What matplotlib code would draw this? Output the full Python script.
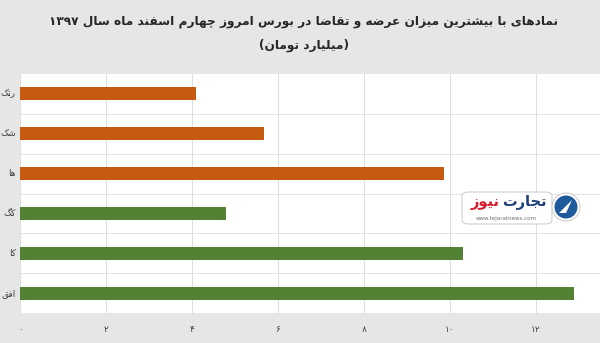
import matplotlib
matplotlib.use("Agg")
import matplotlib.pyplot as plt
from matplotlib.patches import FancyBboxPatch, Ellipse, Polygon

# ---------------- data ----------------
categories = ['رتک', 'شک', 'ها', 'کگ', 'کا', 'افق']
values = [4.09, 5.67, 9.85, 4.79, 10.30, 12.88]
bar_colors = ['#c55a11', '#c55a11', '#c55a11', '#548235', '#548235', '#548235']
xticks = [0, 2, 4, 6, 8, 10, 12]
xtick_labels = ['۰', '۲', '۴', '۶', '۸', '۱۰', '۱۲']
title_line1 = 'نمادهای با بیشترین میزان عرضه و تقاضا در بورس امروز چهارم اسفند ماه سال ۱۳۹۷'
title_line2 = '(میلیارد تومان)'
logo_word1 = 'تجارت'
logo_word2 = 'نیوز'
logo_url = 'www.tejaratnews.com'

# ---------------- minimal Arabic/Persian shaping ----------------
FORMS = {
    'ا': ('\uFE8D', '\uFE8E'), 'د': ('\uFEA9', '\uFEAA'), 'ذ': ('\uFEAB', '\uFEAC'),
    'ر': ('\uFEAD', '\uFEAE'), 'ز': ('\uFEAF', '\uFEB0'), 'ژ': ('\uFB8A', '\uFB8B'),
    'و': ('\uFEED', '\uFEEE'), 'آ': ('\uFE81', '\uFE82'),
    'ب': ('\uFE8F', '\uFE90', '\uFE91', '\uFE92'), 'پ': ('\uFB56', '\uFB57', '\uFB58', '\uFB59'),
    'ت': ('\uFE95', '\uFE96', '\uFE97', '\uFE98'), 'ث': ('\uFE99', '\uFE9A', '\uFE9B', '\uFE9C'),
    'ج': ('\uFE9D', '\uFE9E', '\uFE9F', '\uFEA0'), 'چ': ('\uFB7A', '\uFB7B', '\uFB7C', '\uFB7D'),
    'ح': ('\uFEA1', '\uFEA2', '\uFEA3', '\uFEA4'), 'خ': ('\uFEA5', '\uFEA6', '\uFEA7', '\uFEA8'),
    'س': ('\uFEB1', '\uFEB2', '\uFEB3', '\uFEB4'), 'ش': ('\uFEB5', '\uFEB6', '\uFEB7', '\uFEB8'),
    'ص': ('\uFEB9', '\uFEBA', '\uFEBB', '\uFEBC'), 'ض': ('\uFEBD', '\uFEBE', '\uFEBF', '\uFEC0'),
    'ط': ('\uFEC1', '\uFEC2', '\uFEC3', '\uFEC4'), 'ظ': ('\uFEC5', '\uFEC6', '\uFEC7', '\uFEC8'),
    'ع': ('\uFEC9', '\uFECA', '\uFECB', '\uFECC'), 'غ': ('\uFECD', '\uFECE', '\uFECF', '\uFED0'),
    'ف': ('\uFED1', '\uFED2', '\uFED3', '\uFED4'), 'ق': ('\uFED5', '\uFED6', '\uFED7', '\uFED8'),
    'ک': ('\uFB8E', '\uFB8F', '\uFB90', '\uFB91'), 'گ': ('\uFB92', '\uFB93', '\uFB94', '\uFB95'),
    'ل': ('\uFEDD', '\uFEDE', '\uFEDF', '\uFEE0'), 'م': ('\uFEE1', '\uFEE2', '\uFEE3', '\uFEE4'),
    'ن': ('\uFEE5', '\uFEE6', '\uFEE7', '\uFEE8'), 'ه': ('\uFEE9', '\uFEEA', '\uFEEB', '\uFEEC'),
    'ی': ('\uFBFC', '\uFBFD', '\uFBFE', '\uFBFF'),
}
DIGITS = set('0123456789۰۱۲۳۴۵۶۷۸۹')
MIRROR = {'(': ')', ')': '('}


def shape(text):
    out = []
    n = len(text)
    for i, ch in enumerate(text):
        if ch not in FORMS:
            out.append(ch)
            continue
        f = FORMS[ch]
        prev = text[i - 1] if i > 0 else ''
        nxt = text[i + 1] if i + 1 < n else ''
        jp = prev in FORMS and len(FORMS[prev]) == 4
        jn = len(f) == 4 and nxt in FORMS
        if jp and jn:
            out.append(f[3])
        elif jp:
            out.append(f[1])
        elif jn:
            out.append(f[2])
        else:
            out.append(f[0])
    return ''.join(out)


def rtl(text):
    s = shape(text)
    segs = []
    cur = ''
    cur_d = None
    for ch in s:
        d = ch in DIGITS
        if cur and d != cur_d:
            segs.append((cur, cur_d))
            cur = ''
        cur += ch
        cur_d = d
    if cur:
        segs.append((cur, cur_d))
    res = ''
    for seg, d in reversed(segs):
        if d:
            res += seg
        else:
            res += ''.join(MIRROR.get(c, c) for c in reversed(seg))
    return res


# ---------------- figure ----------------
W, H = 600, 343
fig = plt.figure(figsize=(6.0, 3.43), dpi=100)
fig.patch.set_facecolor('#e6e6e6')

ax = fig.add_axes([20 / W, 1 - 313 / H, 1 - 20 / W, (313 - 74) / H])
ax.set_facecolor('white')

ypos = list(range(len(categories)))
ax.barh(ypos, values, height=0.33, color=bar_colors, zorder=3)
ax.set_ylim(len(categories) - 0.5, -0.5)
ax.set_xlim(0, 580 / 43.0)

ax.set_xticks(xticks)
ax.set_xticklabels(xtick_labels, family=['DejaVu Sans'], fontsize=6.5, color='#404040')
ax.set_yticks([y + 0.5 for y in ypos[:-1]], minor=True)
ax.set_yticks([])
ax.tick_params(axis='x', length=0, pad=9)
ax.tick_params(axis='y', which='both', length=0)
ax.grid(axis='x', which='major', color='#dddddd', lw=0.7, zorder=0)
ax.grid(axis='y', which='minor', color='#e3e3e3', lw=0.7, zorder=0)
for sp in ax.spines.values():
    sp.set_visible(False)

# category labels (cut at the left border of the image)
for y, lab in zip(ypos, categories):
    ax.annotate(rtl(lab), xy=(0, y), xycoords=('axes fraction', 'data'),
                xytext=(-3, 0), textcoords='offset points', ha='right', va='center',
                fontsize=6.5, color='#404040', family=['DejaVu Sans'])

# title
fig.text(0.506, 1 - 22 / H, rtl(title_line1), ha='center', va='center',
         fontsize=8.7, fontweight='bold', color='#262626', family=['DejaVu Sans'])
fig.text(0.506, 1 - 45 / H, rtl(title_line2), ha='center', va='center',
         fontsize=8.7, fontweight='bold', color='#262626', family=['DejaVu Sans'])

# watermark logo
box = FancyBboxPatch((462 / W, 1 - 224 / H), 90 / W, 32 / H,
                     boxstyle='round,pad=0,rounding_size=0.012', transform=fig.transFigure,
                     facecolor='white', edgecolor='#d0d0d0', lw=0.8, zorder=10)
fig.patches.append(box)
ring = Ellipse((566 / W, 1 - 207 / H), 28 / W, 28 / H, transform=fig.transFigure,
               facecolor='white', edgecolor='#d0d0d0', lw=0.8, zorder=11)
fig.patches.append(ring)
ell = Ellipse((566 / W, 1 - 207 / H), 23 / W, 23 / H, transform=fig.transFigure,
              facecolor='#1f5a9c', edgecolor='none', zorder=12)
fig.patches.append(ell)
tri = Polygon([(559 / W, 1 - 213 / H), (572 / W, 1 - 200 / H), (566 / W, 1 - 213 / H)],
              closed=True, transform=fig.transFigure, facecolor='white', edgecolor='none', zorder=13)
fig.patches.append(tri)
fig.text(547 / W, 1 - 203 / H, rtl(logo_word1), ha='right', va='center', fontsize=10.5,
         fontweight='bold', color='#1f3f7a', family=['DejaVu Sans'], zorder=14)
fig.text(500 / W, 1 - 203 / H, rtl(logo_word2), ha='right', va='center', fontsize=10.5,
         fontweight='bold', color='#d71f2f', family=['DejaVu Sans'], zorder=14)
fig.text(506 / W, 1 - 218.5 / H, logo_url, ha='center', va='center', fontsize=4,
         color='#707070', family=['DejaVu Sans'], zorder=14)

fig.savefig('out.png', dpi=100, facecolor=fig.get_facecolor())
